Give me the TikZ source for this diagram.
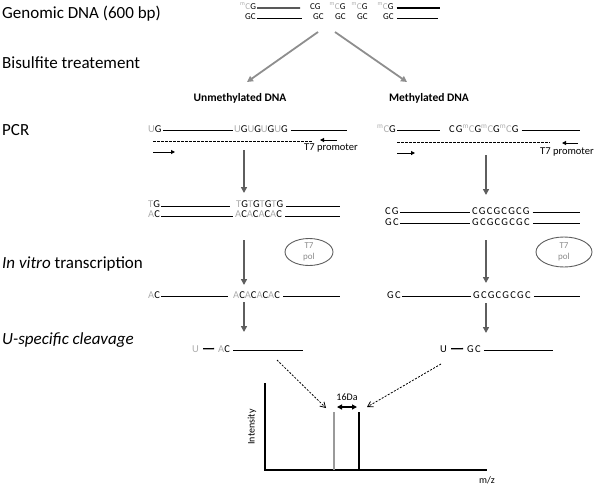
\documentclass[tikz,border=0pt]{standalone}
\usepackage{fontspec}
\setmainfont{Carlito}
\newfontfamily\seqfont[LetterSpace=12]{Carlito}
\usepackage{xcolor}
\definecolor{CONVcolor}{HTML}{ADADAD}
\definecolor{SPLITcolor}{HTML}{8E8E8E}
\definecolor{STEPcolor}{HTML}{5E5E5E}
\definecolor{POLcolor}{HTML}{8A8A8A}
\definecolor{PEAKcolor}{HTML}{9A9A9A}
\usetikzlibrary{math, calc, arrows.meta, shapes.geometric}
\newcommand{\cv}[1]{\textcolor{CONVcolor}{#1}}
\newcommand{\mC}{\textcolor{CONVcolor}{\textsuperscript{m}C}}

\begin{document}
\begin{tikzpicture}[x=1pt, y=-1pt]
    \tikzset{%
        steplabel/.style={anchor=base west, inner sep=0pt, font=\fontsize{17}{20}\selectfont},
        seq/.style={anchor=base west, inner sep=0pt, font=\seqfont\fontsize{10.5}{11}\selectfont},
        topseq/.style={anchor=base west, inner sep=0pt, font=\fontsize{9}{10}\selectfont},
        strand/.style={line width=1.3pt},
        splitarrow/.style={SPLITcolor, line width=1.8pt, -{Triangle[length=6pt, width=6pt]}},
        steparrow/.style={STEPcolor, line width=1.6pt, -{Triangle[length=6pt, width=6pt]}},
        primer/.style={line width=1pt, -{Triangle[length=4pt, width=4pt]}},
        template/.style={dash pattern=on 2.5pt off 1.5pt, line width=0.8pt},
        polase/.style={ellipse, draw=STEPcolor, line width=0.9pt, text=POLcolor, align=center,
                       inner sep=0pt, font=\fontsize{9}{11}\selectfont},
        hint/.style={dash pattern=on 2pt off 1.5pt, line width=0.8pt, -{Straight Barb[length=5pt, width=6pt]}},
        axis/.style={line width=1.6pt},
        small/.style={inner sep=0pt, font=\fontsize{10}{12}\selectfont},
    }
    \tikzmath{%
        \xu=244;
        \xm=486;
    }

    \useasboundingbox (0, 0) rectangle (600, 485);

    % steps on the left
    \node[steplabel] (lg) at (2, 18.5) {Genomic DNA (600 bp)};
    \node[steplabel] (lb) at (2, 68.5) {Bisulfite treatement};
    \node[steplabel] (lp) at (2, 135) {PCR};
    \node[steplabel] (lt) at (2, 268) {\textit{In vitro} transcription};
    \node[steplabel] (lc) at (2, 344) {\textit{U-specific cleavage}};

    % genomic DNA
    \node[topseq] (t1a) at (240, 9.3) {\mC G};
    \node[topseq] (t1b) at (310, 9.3) {CG};
    \node[topseq] (t1c) at (329.5, 9.3) {\mC G};
    \node[topseq] (t1d) at (351.5, 9.3) {\mC G};
    \node[topseq] (t1e) at (377.5, 9.3) {\mC G};
    \node[topseq] (t2a) at (245, 19.5) {GC};
    \node[topseq] (t2b) at (313, 19.5) {GC};
    \node[topseq] (t2c) at (335, 19.5) {GC};
    \node[topseq] (t2d) at (357, 19.5) {GC};
    \node[topseq] (t2e) at (383, 19.5) {GC};

    \node[font=\bfseries\fontsize{11.5}{13}\selectfont] (lblu) at (240, 98.5) {Unmethylated DNA};
    \node[font=\bfseries\fontsize{11.5}{13}\selectfont] (lblm) at (429, 98.5) {Methylated DNA};

    % unmethylated column
    \node[seq] (p1a) at (148, 132) {\cv{U}G};
    \node[seq] (p1b) at (234, 132) {\cv{U}G\cv{U}G\cv{U}G\cv{U}G};
    \node[small, font=\fontsize{10.5}{12}\selectfont] (tpu) at (331, 148) {T7 promoter};
    \node[seq] (d1a) at (148, 207.5) {\cv{T}G};
    \node[seq] (d1b) at (236, 207.5) {\cv{T}G\cv{T}G\cv{T}G\cv{T}G};
    \node[seq] (d2a) at (148, 217.5) {\cv{A}C};
    \node[seq] (d2b) at (235, 217.5) {\cv{A}C\cv{A}C\cv{A}C\cv{A}C};
    \node[polase, minimum width=48pt, minimum height=27pt] (polu) at (309, 252) {T7\\pol};
    \node[seq] (r1a) at (148, 298) {\cv{A}C};
    \node[seq] (r1b) at (233, 298) {\cv{A}C\cv{A}C\cv{A}C\cv{A}C};
    \node[seq] (c1a) at (192, 352) {\cv{U}};
    \node[seq] (c1b) at (218, 352) {\cv{A}C};

    % methylated column
    \node[seq] (m1a) at (377, 132) {\mC G};
    \node[seq] (m1b) at (449, 132) {CG\mC G\mC G\mC G};
    \node[small, font=\fontsize{10.5}{12}\selectfont] (tpm) at (567, 152) {T7 promoter};
    \node[seq] (e1a) at (385, 214) {CG};
    \node[seq] (e1b) at (472, 214) {CGCGCGCG};
    \node[seq] (e2a) at (385, 225) {GC};
    \node[seq] (e2b) at (472, 225) {GCGCGCGC};
    \node[polase, minimum width=56pt, minimum height=30pt] (polm) at (564, 252) {T7\\pol};
    \node[seq] (s1a) at (387, 298) {GC};
    \node[seq] (s1b) at (473, 298) {GCGCGCGC};
    \node[seq] (c2a) at (440, 352) {U};
    \node[seq] (c2b) at (467, 352) {GC};

    % strands
    \foreach \a/\b/\g in {t1a/t1b/10pt, t2a/t2b/11pt, p1a/p1b/1pt, d1a/d1b/6pt, d2a/d2b/2pt,
                          r1a/r1b/5pt, m1a/m1b/9pt, e1a/e1b/2pt, e2a/e2b/2pt, s1a/s1b/2pt} {%
            \draw[strand] ([xshift=1pt, yshift=1.5pt]\a.south east) -- ([xshift=-\g, yshift=1.5pt]\b.south west);
        };
    \foreach \n/\x in {t1e/440, t2e/438, p1b/347, d1b/340, d2b/340, r1b/340, c1b/303,
                       m1b/580, e1b/580, e2b/580, s1b/580, c2b/553} {%
            \draw[strand] ([xshift=3pt, yshift=1.5pt]\n.south east) -- ([yshift=1.5pt]\n.south east -| \x,0);
        };
    \foreach \a/\b in {c1a/c1b, c2a/c2b} {%
            \draw[strand, shorten <=4pt, shorten >=4pt] (\a) -- (\b);
        };

    % arrows
    \foreach \n/\x/\y in {fkl/318/32, spl/247/82, fkr/335/32, spr/407/82,
                          ua/\xu/150, ub/\xu/193, uc/\xu/240, ud/\xu/285, ue/\xu/302, uf/\xu/332,
                          ma/\xm/155, mb/\xm/195, mc/\xm/240, md/\xm/283, me/\xm/303, mf/\xm/333,
                          tu1/153/141, tu2/313/141, tm1/397/142, tm2/550/142,
                          pfu1/153/152, pfu2/175/152, pru1/337/140, pru2/320/140,
                          pfm1/397/153, pfm2/415/153, prm1/578/143, prm2/562/143,
                          hu/277/360, hm/441/364,
                          ytop/265/383, orig/265/470, xend/487/470, pkg/334/412, pkb/359/412} {%
            \coordinate (\n) at (\x, \y);
        };

    \draw[splitarrow] (fkl) -- (spl);
    \draw[splitarrow] (fkr) -- (spr);
    \foreach \a/\b in {ua/ub, uc/ud, ue/uf, ma/mb, mc/md, me/mf} {%
            \draw[steparrow] (\a) -- (\b);
        };
    \draw[template] (tu1) -- (tu2);
    \draw[template] (tm1) -- (tm2);
    \foreach \a/\b in {pfu1/pfu2, pru1/pru2, pfm1/pfm2, prm1/prm2} {%
            \draw[primer] (\a) -- (\b);
        };

    % mass spectrum
    \draw[axis] (ytop) -- (orig) -- (xend);
    \draw[line width=2pt, PEAKcolor] (pkg) -- (pkg |- orig);
    \draw[line width=2pt] (pkb) -- (pkb |- orig);
    \draw[line width=1.2pt, {Triangle[length=5pt, width=5pt]}-{Triangle[length=5pt, width=5pt]}]
        ([xshift=3pt, yshift=5pt]pkg) -- ([xshift=-2pt, yshift=5pt]pkb);
    \node[small] (dalbl) at (347, 397) {16Da};
    \node[small, rotate=90] (intlbl) at (252, 427) {Intensity};
    \node[small] (mzlbl) at (487, 480) {m/z};
    \draw[hint] (hu) -- ([xshift=-8pt, yshift=4pt]pkg);
    \draw[hint] (hm) -- ([xshift=8pt, yshift=5pt]pkb);
\end{tikzpicture}
\end{document}
